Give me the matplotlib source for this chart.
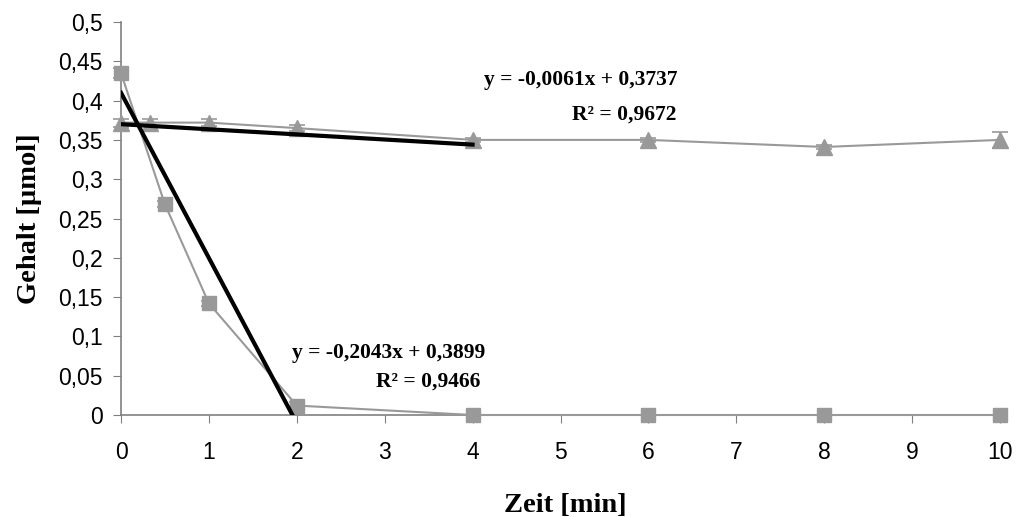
import numpy as np
from matplotlib import pyplot as plt

# Messwerte
zeit_a = [0, 0.5, 1, 2, 4, 6, 8, 10]
gehalt_a = [0.435, 0.268, 0.142, 0.012, 0.0, 0.0, 0.0, 0.0]
fehler_a = [0.006, 0.004, 0.003, 0.004, 0.0, 0.0, 0.0, 0.0]

zeit_b = [0, 0.33, 1, 2, 4, 6, 8, 10]
gehalt_b = [0.372, 0.372, 0.372, 0.365, 0.35, 0.35, 0.341, 0.35]
fehler_b = [0.005, 0.004, 0.004, 0.004, 0.003, 0.003, 0.002, 0.01]

# Trendlinien (Endpunkte aus dem Bild)
trend_a_x = [0, 1.95]
trend_a_y = [0.41, 0.0]
trend_b_x = [0, 4]
trend_b_y = [0.370, 0.344]

ytick_lab = ['0', '0,05', '0,1', '0,15', '0,2', '0,25', '0,3', '0,35', '0,4', '0,45', '0,5']

grau = '#999999'

fig = plt.figure(figsize=(10.19, 5.17), dpi=100)
ax = fig.add_axes([121/1019, 1 - 415/517, (1000-121)/1019, (415-22)/517])

ax.errorbar(zeit_a, gehalt_a, yerr=fehler_a, color=grau, marker='s', markersize=10,
            lw=1.5, capsize=6, elinewidth=1.2, capthick=1.2, zorder=3, clip_on=False)
ax.errorbar(zeit_b, gehalt_b, yerr=fehler_b, color=grau, marker='^', markersize=11,
            lw=1.5, capsize=6, elinewidth=1.2, capthick=1.2, zorder=3, clip_on=False)
ax.plot(trend_a_x, trend_a_y, color='k', lw=3, zorder=4)
ax.plot(trend_b_x, trend_b_y, color='k', lw=3, zorder=4)

ax.set_xlim(0, 10)
ax.set_ylim(0, 0.5)
ax.set_xticks(range(0, 11))
ax.set_yticks(np.arange(0, 0.51, 0.05))
ax.set_yticklabels(ytick_lab)
ax.tick_params(labelsize=16.5, length=6, color='#808080')
ax.tick_params(axis='x', pad=13)
ax.tick_params(axis='y', pad=7)
for lab in ax.get_xticklabels() + ax.get_yticklabels():
    lab.set_fontfamily('Liberation Sans')
for s in ['top', 'right']:
    ax.spines[s].set_visible(False)
for s in ['left', 'bottom']:
    ax.spines[s].set_color('#808080')
    ax.spines[s].set_linewidth(1.2)

ax.set_xlabel('Zeit [min]', fontfamily='Liberation Serif', fontweight='bold', fontsize=20.5)
ax.set_ylabel('Gehalt [µmol]', fontfamily='Liberation Serif', fontweight='bold', fontsize=20.5)
ax.xaxis.set_label_coords(0.505, -0.198)
ax.yaxis.set_label_coords(-0.09, 0.5)

font_txt = dict(fontfamily='Liberation Serif', fontweight='bold', fontsize=15.5, ha='center', va='center')
ax.text(5.23, 0.426, 'y = -0,0061x + 0,3737', **font_txt)
ax.text(5.73, 0.382, 'R² = 0,9672', **font_txt)
ax.text(3.04, 0.079, 'y = -0,2043x + 0,3899', **font_txt)
ax.text(3.50, 0.043, 'R² = 0,9466', **font_txt)

fig.savefig('out.png', dpi=100)
